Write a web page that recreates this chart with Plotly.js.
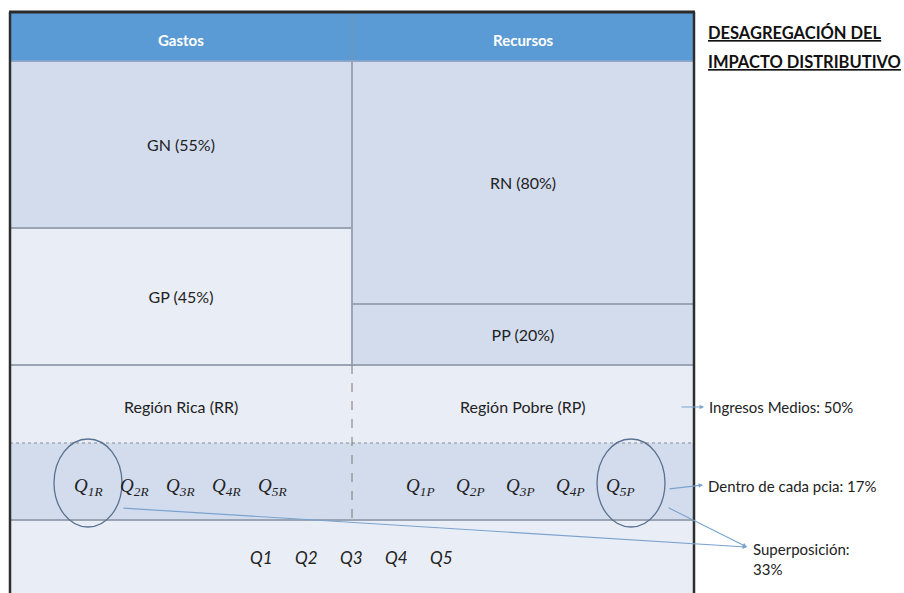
<!DOCTYPE html>
<html><head><meta charset="utf-8">
<script src="https://cdn.plot.ly/plotly-3.0.1.min.js"></script>
<style>html,body{margin:0;padding:0;background:#fff}#chart{width:904px;height:593px}</style>
</head><body><div id="chart"></div>
<script>
// ---- data ----
const columns = ['Gastos', 'Recursos'];
const upperLabels = ['GN', 'RN'];
const upperShares = [55, 80];
const lowerLabels = ['GP', 'PP'];
const lowerShares = [45, 20];
const regions = ['Región Rica (RR)', 'Región Pobre (RP)'];
const regionCodes = ['R', 'P'];
const quintiles = [1, 2, 3, 4, 5];
const effectLabels = ['Ingresos Medios', 'Dentro de cada pcia', 'Superposición'];
const effectShares = [50, 17, 33];
const titleLines = ['DESAGREGACIÓN DEL', 'IMPACTO DISTRIBUTIVO'];

// ---- layout helpers (pixel -> paper) ----
const W = 904, H = 593;
const px = x => x / W;
const py = y => 1 - y / H;
const L = 10, R = 694, MID = 352;
const TOP = 12, HEAD = 61, BODY = 365, REG = 443, QROW = 520;
const FONT = 'Lato, "Open Sans", sans-serif';
const LIGHT = '#E9EDF6', MEDIUM = '#D2DCED', HEADER = '#5B9BD5';
const GRID = '#9AA4B2';

const traces = [
  {
    type: 'bar', x: columns, y: lowerShares,
    text: lowerLabels.map((l, i) => `${l} (${lowerShares[i]}%)`),
    textposition: 'inside', insidetextanchor: 'middle', textangle: 0,
    textfont: {family: FONT, size: 16, color: '#222'},
    marker: {color: [LIGHT, MEDIUM], line: {color: GRID, width: 1.5}},
    hoverinfo: 'skip', cliponaxis: false
  },
  {
    type: 'bar', x: columns, y: upperShares,
    text: upperLabels.map((l, i) => `${l} (${upperShares[i]}%)`),
    textposition: 'inside', insidetextanchor: 'middle', textangle: 0,
    textfont: {family: FONT, size: 16, color: '#222'},
    marker: {color: [MEDIUM, MEDIUM], line: {color: GRID, width: 1.5}},
    hoverinfo: 'skip', cliponaxis: false
  }
];

const shapes = [
  {type: 'rect', xref: 'paper', yref: 'paper', x0: px(L), x1: px(R), y0: py(HEAD), y1: py(TOP), fillcolor: HEADER, line: {width: 0}, layer: 'below'},
  {type: 'rect', xref: 'paper', yref: 'paper', x0: px(L), x1: px(R), y0: py(REG), y1: py(BODY), fillcolor: LIGHT, line: {width: 0}, layer: 'below'},
  {type: 'rect', xref: 'paper', yref: 'paper', x0: px(L), x1: px(R), y0: py(QROW), y1: py(REG), fillcolor: MEDIUM, line: {width: 0}, layer: 'below'},
  {type: 'rect', xref: 'paper', yref: 'paper', x0: px(L), x1: px(R), y0: 0, y1: py(QROW), fillcolor: LIGHT, line: {width: 0}, layer: 'below'},
  // header divider
  {type: 'line', xref: 'paper', yref: 'paper', x0: px(MID), x1: px(MID), y0: py(TOP), y1: py(HEAD), line: {color: '#7F8FA6', width: 1}},
  {type: 'line', xref: 'paper', yref: 'paper', x0: px(L), x1: px(R), y0: py(HEAD), y1: py(HEAD), line: {color: '#8FA7C8', width: 1.5}},
  // row lines
  {type: 'line', xref: 'paper', yref: 'paper', x0: px(L), x1: px(R), y0: py(BODY), y1: py(BODY), line: {color: GRID, width: 2}},
  {type: 'line', xref: 'paper', yref: 'paper', x0: px(L), x1: px(R), y0: py(REG), y1: py(REG), line: {color: '#A3ABB7', width: 1.5, dash: 'dot'}},
  {type: 'line', xref: 'paper', yref: 'paper', x0: px(L), x1: px(R), y0: py(QROW), y1: py(QROW), line: {color: GRID, width: 2}},
  {type: 'line', xref: 'paper', yref: 'paper', x0: px(MID), x1: px(MID), y0: py(BODY), y1: py(QROW), line: {color: '#777', width: 1, dash: 'dash'}},
  // borders
  {type: 'line', xref: 'paper', yref: 'paper', x0: px(L - 1), x1: px(R + 1), y0: py(TOP), y1: py(TOP), line: {color: '#2A2A2A', width: 3}},
  {type: 'line', xref: 'paper', yref: 'paper', x0: px(L), x1: px(L), y0: 0, y1: py(TOP), line: {color: '#2E2E2E', width: 2.5}},
  {type: 'line', xref: 'paper', yref: 'paper', x0: px(R), x1: px(R), y0: 0, y1: py(TOP), line: {color: '#2E2E2E', width: 2.5}},
  // circles
  {type: 'circle', xref: 'paper', yref: 'paper', x0: px(54), x1: px(122), y0: py(527), y1: py(439), line: {color: '#5A7190', width: 1.3}},
  {type: 'circle', xref: 'paper', yref: 'paper', x0: px(597), x1: px(665), y0: py(527), y1: py(439), line: {color: '#5A7190', width: 1.3}}
];

const annotations = [];
const txt = (o) => Object.assign({xref: 'paper', yref: 'paper', showarrow: false, xanchor: 'center', yanchor: 'middle'}, o);
// header labels
columns.forEach(c => annotations.push(txt({xref: 'x', x: c, y: py(40), text: `<b>${c}</b>`, font: {family: FONT, size: 15, color: '#fff'}})));
// region labels
regions.forEach((r, i) => annotations.push(txt({xref: 'x', x: columns[i], y: py(407), text: r, font: {family: FONT, size: 16, color: '#222'}})));
// quintile labels by region
const qStart = [88, 420], qStep = [46, 50];
regionCodes.forEach((code, r) => quintiles.forEach((q, k) => annotations.push(txt({
  x: px(qStart[r] + qStep[r] * k), y: py(487),
  text: `<i>Q</i><sub><i>${q}${code}</i></sub>`,
  font: {family: '"Liberation Serif", "DejaVu Serif", serif', size: 19, color: '#222'}
}))));
// overall quintiles
quintiles.forEach((q, k) => annotations.push(txt({
  x: px(261 + 45 * k), y: py(557),
  text: `<i>Q${q}</i>`, font: {family: FONT, size: 17, color: '#222'}
})));
// effects
const arrowStyle = {showarrow: true, arrowhead: 2, arrowsize: 0.8, arrowwidth: 1.1, arrowcolor: '#7AA3CF', text: '', xref: 'paper', yref: 'paper'};
annotations.push(Object.assign({}, arrowStyle, {x: px(704), y: py(407), ax: -24, ay: 0}));
annotations.push(Object.assign({}, arrowStyle, {x: px(703), y: py(485), ax: -35, ay: 4}));
annotations.push(Object.assign({}, arrowStyle, {x: px(747), y: py(547), ax: -625, ay: -39}));
annotations.push(Object.assign({}, arrowStyle, {x: px(747), y: py(547), ax: -80, ay: -40}));
annotations.push(txt({x: px(707), y: py(407), xanchor: 'left', text: `${effectLabels[0]}: ${effectShares[0]}%`, font: {family: FONT, size: 15, color: '#222'}}));
annotations.push(txt({x: px(706), y: py(486), xanchor: 'left', text: `${effectLabels[1]}: ${effectShares[1]}%`, font: {family: FONT, size: 15, color: '#222'}}));
annotations.push(txt({x: px(751), y: py(559), xanchor: 'left', align: 'left', text: `${effectLabels[2]}:<br>${effectShares[2]}%`, font: {family: FONT, size: 15, color: '#222'}}));
// title
titleLines.forEach((t, i) => annotations.push(txt({x: px(706), y: py(33 + 29 * i), xanchor: 'left', text: `<b><u>${t}</u></b>`, font: {family: FONT, size: 16.5, color: '#111'}})));

const layout = {
  width: W, height: H,
  margin: {l: 0, r: 0, t: 0, b: 0},
  paper_bgcolor: '#fff', plot_bgcolor: 'rgba(0,0,0,0)',
  showlegend: false, barmode: 'stack', bargap: 0,
  xaxis: {domain: [px(L), px(R)], range: [-0.5, 1.5], type: 'category', visible: false, fixedrange: true},
  yaxis: {domain: [py(BODY), py(HEAD)], range: [0, 100], visible: false, fixedrange: true},
  shapes, annotations
};

Plotly.newPlot('chart', traces, layout, {displayModeBar: false, staticPlot: true});
</script></body></html>
